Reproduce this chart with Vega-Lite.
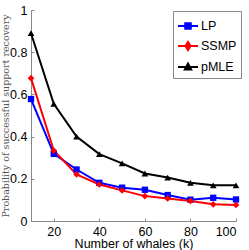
{
  "$schema": "https://vega.github.io/schema/vega-lite/v6.json",
  "autosize": "none",
  "width": 205,
  "height": 211,
  "padding": {"left": 31, "top": 10, "right": 13, "bottom": 29},
  "background": "white",
  "config": {
    "view": {"stroke": null},
    "axis": {
      "grid": false,
      "domainColor": "#888888",
      "tickColor": "#888888",
      "tickSize": -3,
      "labelFont": "Liberation Sans",
      "labelFontSize": 12.5,
      "labelColor": "#000000",
      "titleFont": "Liberation Sans",
      "titleFontWeight": "normal",
      "titleColor": "#000000"
    }
  },
  "data": {
    "values": [
      {"k": 10, "method": "LP", "p": 0.578},
      {"k": 20, "method": "LP", "p": 0.318},
      {"k": 30, "method": "LP", "p": 0.244},
      {"k": 40, "method": "LP", "p": 0.181},
      {"k": 50, "method": "LP", "p": 0.158},
      {"k": 60, "method": "LP", "p": 0.148},
      {"k": 70, "method": "LP", "p": 0.123},
      {"k": 80, "method": "LP", "p": 0.101},
      {"k": 90, "method": "LP", "p": 0.11},
      {"k": 100, "method": "LP", "p": 0.102},
      {"k": 10, "method": "SSMP", "p": 0.677},
      {"k": 20, "method": "SSMP", "p": 0.334},
      {"k": 30, "method": "SSMP", "p": 0.221},
      {"k": 40, "method": "SSMP", "p": 0.173},
      {"k": 50, "method": "SSMP", "p": 0.145},
      {"k": 60, "method": "SSMP", "p": 0.118},
      {"k": 70, "method": "SSMP", "p": 0.107},
      {"k": 80, "method": "SSMP", "p": 0.095},
      {"k": 90, "method": "SSMP", "p": 0.079},
      {"k": 100, "method": "SSMP", "p": 0.076},
      {"k": 10, "method": "pMLE", "p": 0.89},
      {"k": 20, "method": "pMLE", "p": 0.555},
      {"k": 30, "method": "pMLE", "p": 0.4},
      {"k": 40, "method": "pMLE", "p": 0.317},
      {"k": 50, "method": "pMLE", "p": 0.273},
      {"k": 60, "method": "pMLE", "p": 0.225},
      {"k": 70, "method": "pMLE", "p": 0.206},
      {"k": 80, "method": "pMLE", "p": 0.181},
      {"k": 90, "method": "pMLE", "p": 0.169},
      {"k": 100, "method": "pMLE", "p": 0.169}
    ]
  },
  "encoding": {
    "x": {
      "field": "k", "type": "quantitative",
      "scale": {"domain": [10, 100], "nice": false, "zero": false},
      "axis": {"values": [20, 40, 60, 80, 100], "title": "Number of whales (k)", "titleFontSize": 12.5, "titlePadding": 0, "labelPadding": 7}
    },
    "y": {
      "field": "p", "type": "quantitative",
      "scale": {"domain": [0, 1], "nice": false},
      "axis": {"values": [0, 0.2, 0.4, 0.6, 0.8, 1], "format": "~g", "title": "Probability of successful support recovery", "titleFont": "DejaVu Serif", "titleFontSize": 9.5, "titleColor": "#555555", "titleX": -26, "titleBaseline": "middle", "labelPadding": 7}
    },
    "color": {
      "field": "method", "type": "nominal",
      "scale": {"domain": ["LP", "SSMP", "pMLE"], "range": ["#0000ff", "#ff0000", "#000000"]}
    }
  },
  "layer": [
    {
      "mark": {"type": "line", "strokeWidth": 2},
      "encoding": {
        "color": {
          "field": "method", "type": "nominal",
          "scale": {"domain": ["LP", "SSMP", "pMLE"], "range": ["#0000ff", "#ff0000", "#000000"]},
          "legend": {
            "orient": "none",
            "legendX": 142,
            "legendY": 1,
            "title": null,
            "padding": 4,
            "strokeColor": "#888888",
            "fillColor": "white",
            "labelFont": "Liberation Sans",
            "labelFontSize": 12.5,
            "labelColor": "#000000",
            "symbolSize": 400,
            "symbolStrokeWidth": 2,
            "rowPadding": 2,
            "labelOffset": 2,
            "encode": {
              "symbols": {
                "update": {
                  "shape": {"signal": "datum.value === 'LP' ? 'M-1,0H1M-0.28,-0.28H0.28V0.28H-0.28Z' : datum.value === 'SSMP' ? 'M-1,0H1M0,-0.4L0.25,0L0,0.4L-0.25,0Z' : 'M-1,0H1M0,-0.35L0.32,0.25H-0.32Z'"},
                  "stroke": {"signal": "datum.value === 'LP' ? '#0000ff' : datum.value === 'SSMP' ? '#ff0000' : '#000000'"},
                  "fill": {"signal": "datum.value === 'LP' ? '#0000ff' : datum.value === 'SSMP' ? '#ff0000' : '#000000'"},
                  "strokeWidth": {"value": 2},
                  "opacity": {"value": 1}
                }
              }
            }
          }
        }
      }
    },
    {
      "transform": [{"filter": "datum.method === 'LP'"}],
      "mark": {"type": "point", "filled": true, "opacity": 1, "shape": "square", "size": 40}
    },
    {
      "transform": [{"filter": "datum.method === 'SSMP'"}],
      "mark": {"type": "point", "filled": true, "opacity": 1, "shape": "diamond", "size": 45}
    },
    {
      "transform": [{"filter": "datum.method === 'pMLE'"}],
      "mark": {"type": "point", "filled": true, "opacity": 1, "shape": "triangle-up", "size": 45}
    }
  ]
}
